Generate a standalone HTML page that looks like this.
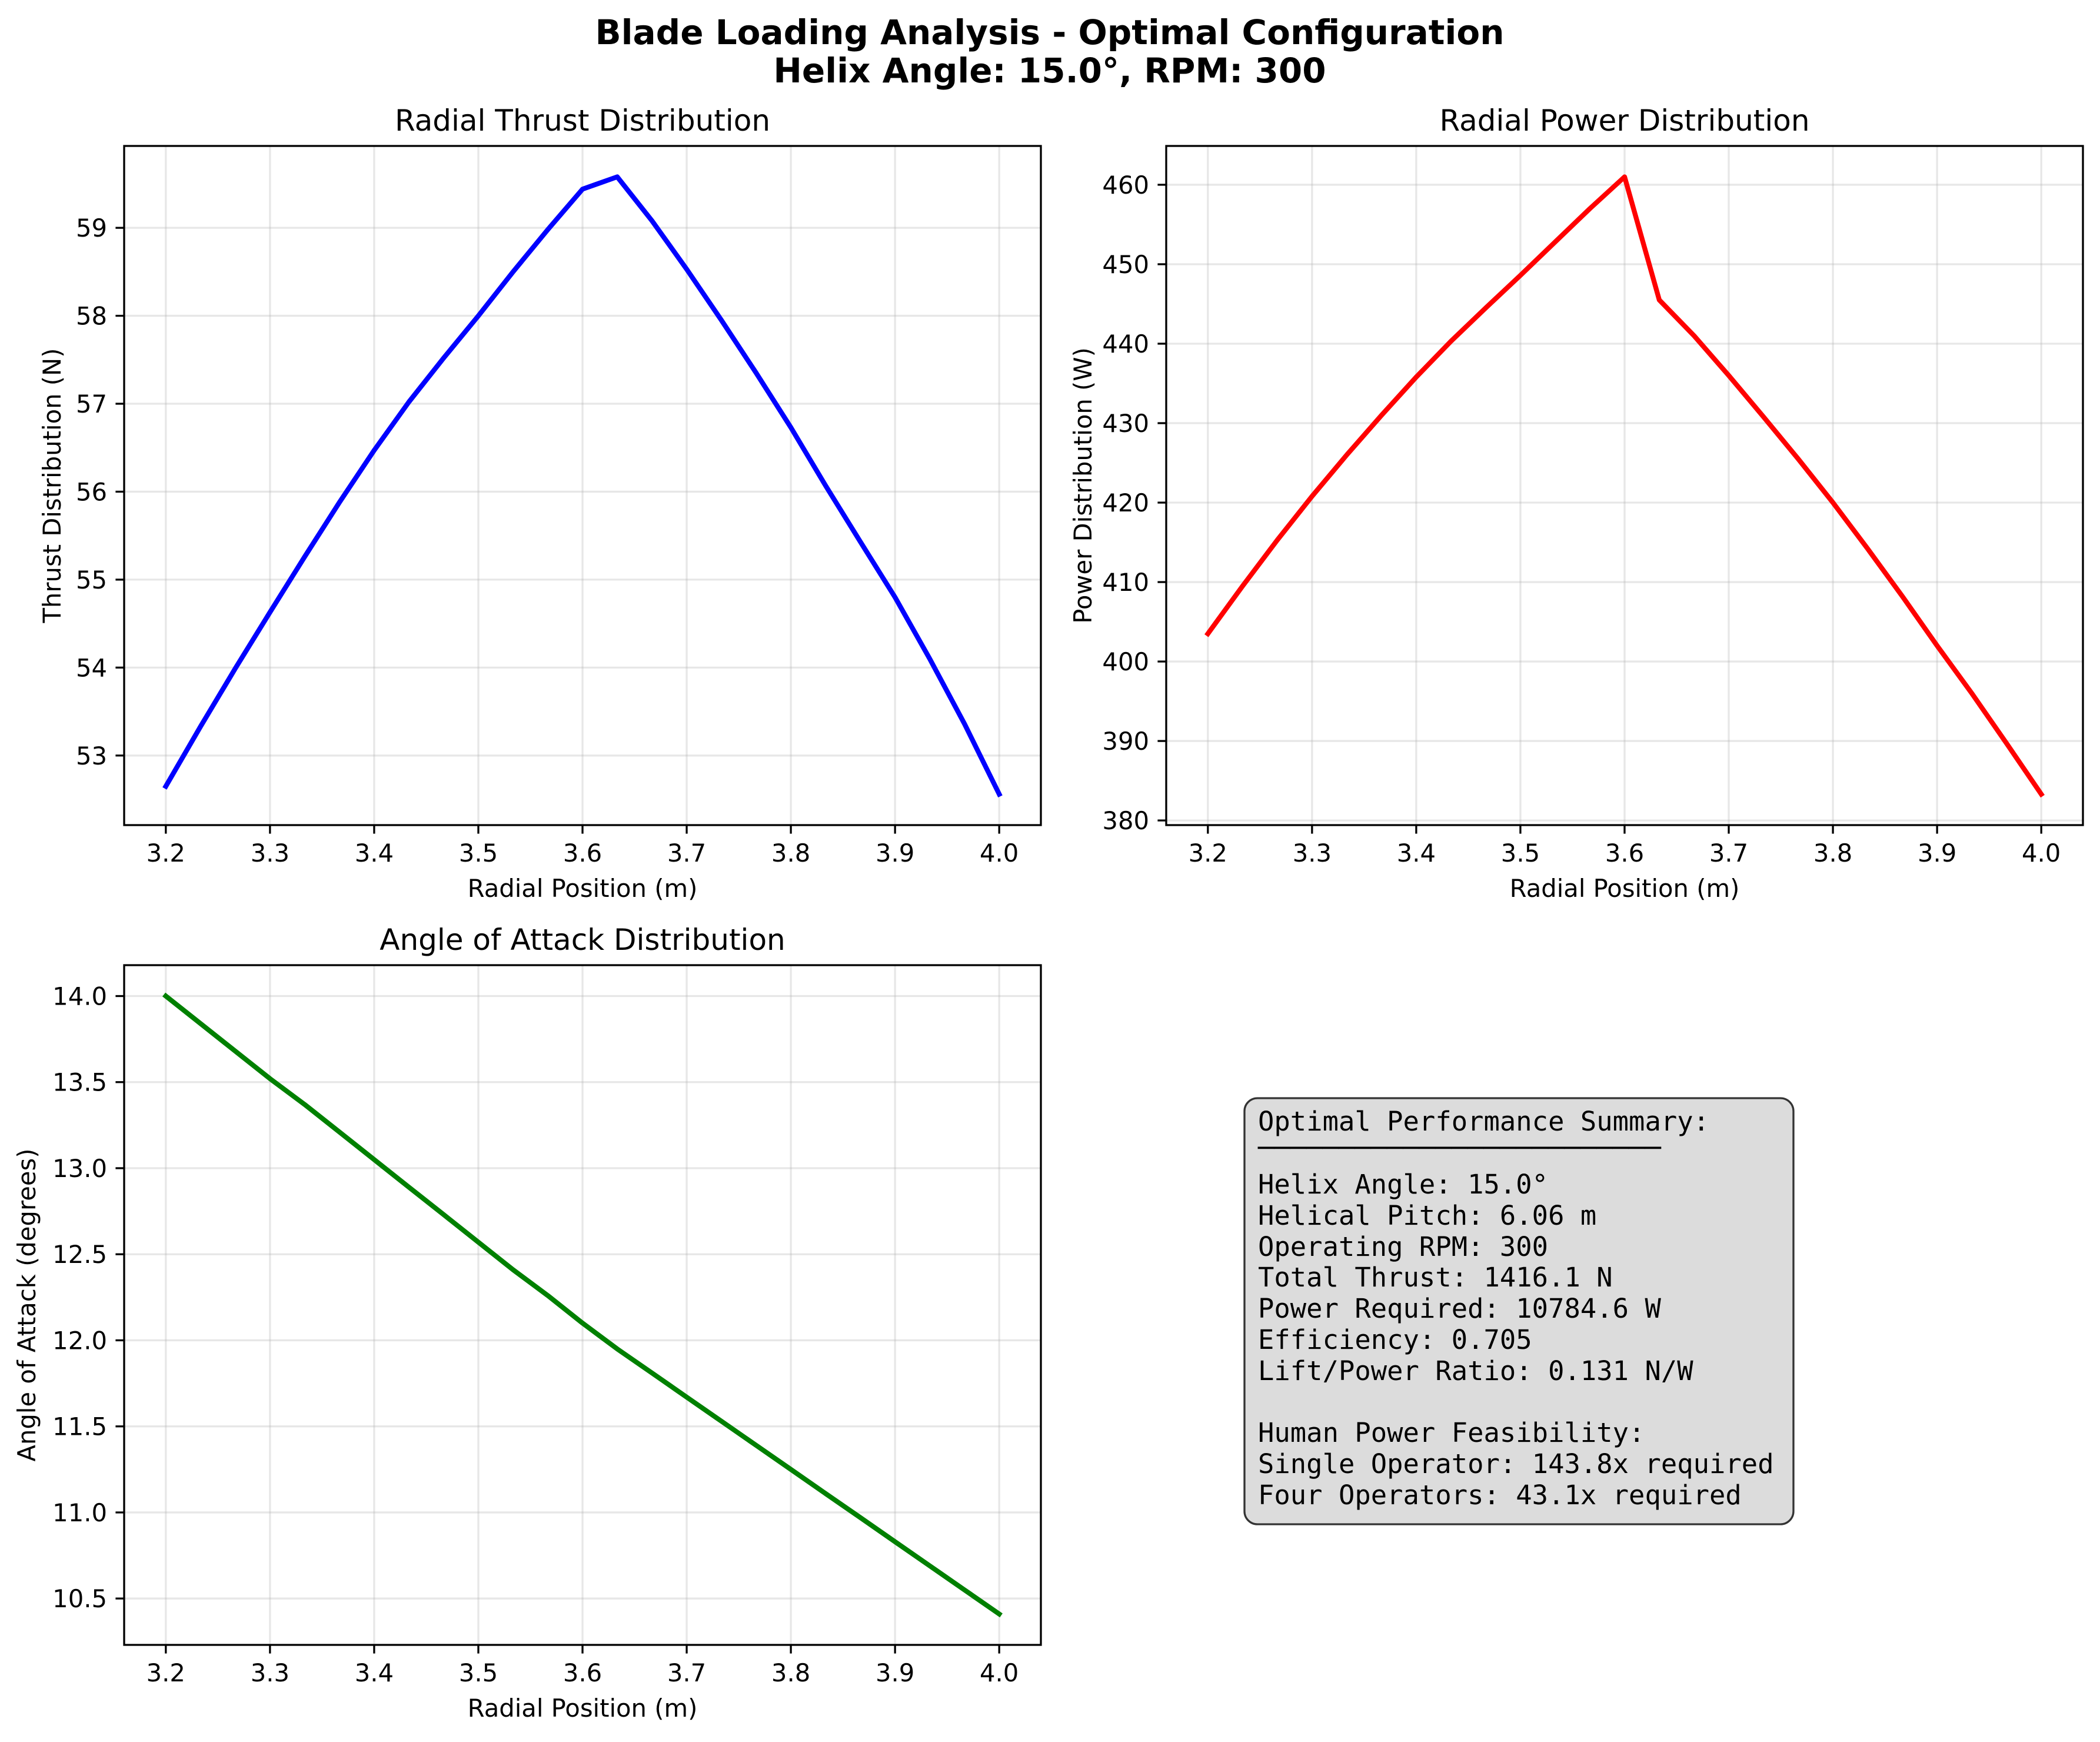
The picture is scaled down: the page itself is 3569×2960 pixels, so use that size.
<!DOCTYPE html>
<html><head><meta charset="utf-8"><style>
html,body{margin:0;padding:0;background:#fff}
svg text{font-family:"DejaVu Sans","Liberation Sans",sans-serif;fill:#000}
</style></head><body>
<svg id="fig" xmlns="http://www.w3.org/2000/svg" width="3569" height="2955" viewBox="0 0 3569 2955">
<rect width="3569" height="2955" fill="#fff"/>
<text x="1784" y="75" font-size="58" font-weight="bold" text-anchor="middle">Blade Loading Analysis - Optimal Configuration</text>
<text x="1784" y="140" font-size="58" font-weight="bold" text-anchor="middle">Helix Angle: 15.0°, RPM: 300</text>
<g id="panels"></g>
<g>
<rect x="2115" y="1866" width="933" height="724" rx="22" fill="#dcdcdc" stroke="#333" stroke-width="3.3"/>
<text font-size="45.5" style="font-family:'DejaVu Sans Mono','Liberation Mono',monospace">
<tspan x="2138" y="1921">Optimal Performance Summary:</tspan>
<tspan x="2138" y="1966">─────────────────────────</tspan>
<tspan x="2138" y="2028">Helix Angle: 15.0°</tspan>
<tspan x="2138" y="2081">Helical Pitch: 6.06 m</tspan>
<tspan x="2138" y="2134">Operating RPM: 300</tspan>
<tspan x="2138" y="2186">Total Thrust: 1416.1 N</tspan>
<tspan x="2138" y="2239">Power Required: 10784.6 W</tspan>
<tspan x="2138" y="2292">Efficiency: 0.705</tspan>
<tspan x="2138" y="2345">Lift/Power Ratio: 0.131 N/W</tspan>
<tspan x="2138" y="2450">Human Power Feasibility:</tspan>
<tspan x="2138" y="2503">Single Operator: 143.8x required</tspan>
<tspan x="2138" y="2556">Four Operators: 43.1x required</tspan>
</text>
</g>
</svg>
<script>
const radial=[3.2,3.2333,3.2667,3.3,3.3333,3.3667,3.4,3.4333,3.4667,3.5,3.5333,3.5667,3.6,3.6333,3.6667,3.7,3.7333,3.7667,3.8,3.8333,3.8667,3.9,3.9333,3.9667,4.0];
const thrust=[52.65,53.33,53.99,54.63,55.26,55.88,56.47,57.02,57.52,58.0,58.50,58.98,59.44,59.58,59.08,58.53,57.95,57.35,56.73,56.07,55.43,54.80,54.10,53.36,52.56];
const power=[403.5,409.5,415.3,420.8,426.0,431.0,435.8,440.3,444.5,448.6,452.8,457.0,461.0,445.5,441.0,436.0,430.8,425.5,420.0,414.2,408.2,402.0,396.0,389.7,383.3];
const aoa=[14.00,13.84,13.68,13.52,13.37,13.21,13.05,12.89,12.73,12.57,12.41,12.26,12.10,11.95,11.81,11.67,11.53,11.39,11.25,11.11,10.97,10.83,10.69,10.55,10.41];
const xTicks=[3.2,3.3,3.4,3.5,3.6,3.7,3.8,3.9,4.0];
const thrustTicks=[53,54,55,56,57,58,59];
const powerTicks=[380,390,400,410,420,430,440,450,460];
const aoaTicks=[10.5,11.0,11.5,12.0,12.5,13.0,13.5,14.0];

const NS='http://www.w3.org/2000/svg';
const root=document.getElementById('panels');
function mk(tag,attrs,parent){const e=document.createElementNS(NS,tag);for(const k in attrs)e.setAttribute(k,attrs[k]);(parent||root).appendChild(e);return e;}
function panel(cfg){
  const g=mk('g',{});
  
  
  const L=cfg.x0,R=cfg.x1,T=cfg.y0,B=cfg.y1;
  const xmin=Math.min(...radial),xmax=Math.max(...radial),xm=(xmax-xmin)*0.05;
  const ymin=Math.min(...cfg.data),ymax=Math.max(...cfg.data),ym=(ymax-ymin)*0.05;
  const sx=v=>L+(v-(xmin-xm))/((xmax+xm)-(xmin-xm))*(R-L);
  const sy=v=>B-(v-(ymin-ym))/((ymax+ym)-(ymin-ym))*(B-T);
  xTicks.forEach(t=>{
    const gl=mk('line',{x1:sx(t),x2:sx(t),y1:T,y2:B,stroke:'#b0b0b0','stroke-opacity':0.3,'stroke-width':3.3},g);
    
    
    mk('line',{x1:sx(t),x2:sx(t),y1:B,y2:B+14.6,stroke:'#000','stroke-width':3.3},g);
    const tx=mk('text',{x:sx(t),y:B+62,'font-size':41.7,'text-anchor':'middle'},g);
    tx.textContent=t.toFixed(1);
    
    
  });
  cfg.ticks.forEach(t=>{
    const gl=mk('line',{x1:L,x2:R,y1:sy(t),y2:sy(t),stroke:'#b0b0b0','stroke-opacity':0.3,'stroke-width':3.3},g);
    
    
    mk('line',{x1:L-14.6,x2:L,y1:sy(t),y2:sy(t),stroke:'#000','stroke-width':3.3},g);
    const tx=mk('text',{x:L-29,y:sy(t)+15,'font-size':41.7,'text-anchor':'end'},g);
    tx.textContent=cfg.fmt(t);
    
    
  });
  const pts=radial.map((r,i)=>sx(r).toFixed(1)+','+sy(cfg.data[i]).toFixed(1)).join(' ');
  const line=mk('polyline',{points:pts,fill:'none',stroke:cfg.color,'stroke-width':8.3,'stroke-linejoin':'round','stroke-linecap':'square'},g);
  
  
  const fr=mk('rect',{x:L,y:T,width:R-L,height:B-T,fill:'none',stroke:'#000','stroke-width':3.3},g);
  
  
  const ti=mk('text',{x:(L+R)/2,y:T-26,'font-size':50,'text-anchor':'middle'},g);
  ti.textContent=cfg.title;
  
  
  const xl=mk('text',{x:(L+R)/2,y:B+122,'font-size':41.7,'text-anchor':'middle'},g);
  xl.textContent='Radial Position (m)';
  
  
  const yl=mk('text',{x:0,y:0,'font-size':41.7,'text-anchor':'middle',transform:`translate(${cfg.ylx},${(T+B)/2}) rotate(-90)`},g);
  yl.textContent=cfg.ylabel;
  
  
}
panel({name:'thrust-chart',x0:211,x1:1769,y0:248,y1:1402,data:thrust,ticks:thrustTicks,fmt:t=>String(t),color:'#0000ff',title:'Radial Thrust Distribution',ylabel:'Thrust Distribution (N)',ylx:103});
panel({name:'power-chart',x0:1982,x1:3540,y0:248,y1:1402,data:power,ticks:powerTicks,fmt:t=>String(t),color:'#ff0000',title:'Radial Power Distribution',ylabel:'Power Distribution (W)',ylx:1855});
panel({name:'aoa-chart',x0:211,x1:1769,y0:1640,y1:2795,data:aoa,ticks:aoaTicks,fmt:t=>t.toFixed(1),color:'#008000',title:'Angle of Attack Distribution',ylabel:'Angle of Attack (degrees)',ylx:60});
</script>
</body></html>
